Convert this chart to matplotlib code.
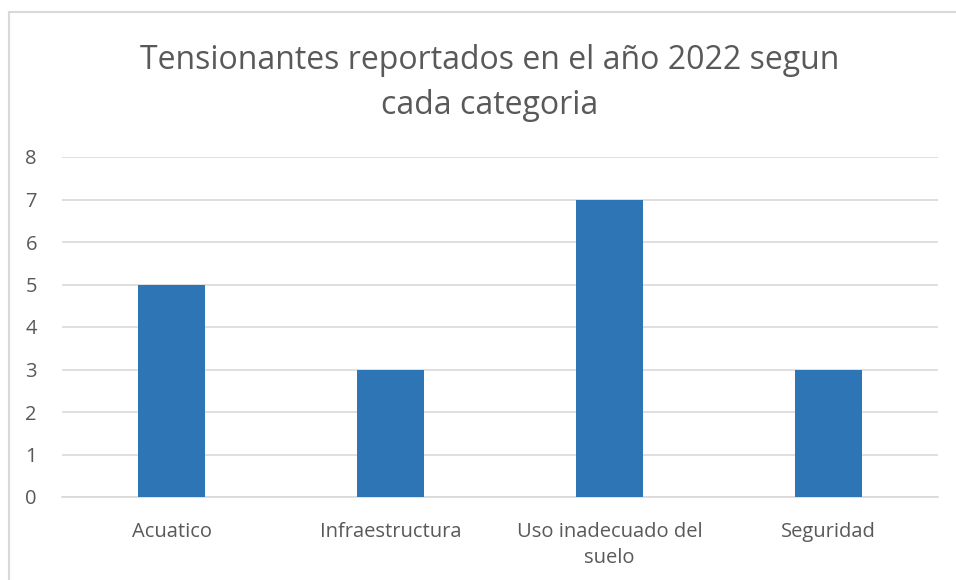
import matplotlib.pyplot as plt
from matplotlib.lines import Line2D

categorias = ["Acuatico", "Infraestructura", "Uso inadecuado del\nsuelo", "Seguridad"]
tensionantes = [5, 3, 7, 3]
ticks_y = [0, 1, 2, 3, 4, 5, 6, 7, 8]

plt.rcParams["font.family"] = ["Open Sans", "DejaVu Sans"]

W, H = 956, 580
fig = plt.figure(figsize=(W / 100, H / 100), dpi=100)

# chart area outline: only the top and left edges show
borde = "#d9d9d9"
fig.lines.append(Line2D([8.5 / W, 8.5 / W], [0, 1 - 12 / H], transform=fig.transFigure,
                        color=borde, linewidth=1.5))
fig.lines.append(Line2D([8.5 / W, 1], [1 - 12 / H, 1 - 12 / H], transform=fig.transFigure,
                        color=borde, linewidth=1.5))

ax = fig.add_axes([62 / W, (H - 497) / H, (938 - 62) / W, (497 - 157) / H])

x = range(len(categorias))
ax.bar(x, tensionantes, width=0.31, color="#2e75b6", zorder=3)

ax.set_xlim(-0.5, len(categorias) - 0.5)
ax.set_ylim(0, 8)
ax.set_yticks(ticks_y)
ax.set_xticks(list(x))
ax.set_xticklabels(categorias, fontsize=14.5, color="#595959", linespacing=1.4)
ax.tick_params(axis="y", labelsize=14.5, labelcolor="#595959", length=0, pad=18)
ax.tick_params(axis="x", length=0, pad=18)

ax.grid(axis="y", color="#d9d9d9", linewidth=1.2, zorder=0)
for side in ["top", "right", "left"]:
    ax.spines[side].set_visible(False)
ax.spines["bottom"].set_color("#d9d9d9")
ax.spines["bottom"].set_linewidth(1.2)

fig.text(490 / W, 1 - 83 / H, "Tensionantes reportados en el año 2022 segun\ncada categoria",
         ha="center", va="center", fontsize=23, color="#595959", linespacing=1.45)

fig.savefig("out.png", dpi=100)
